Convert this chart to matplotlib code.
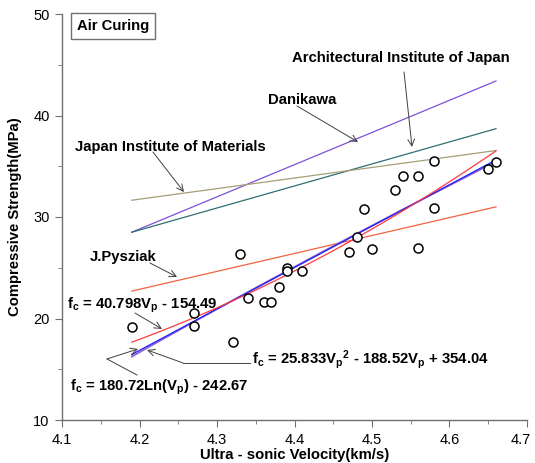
import numpy as np
import matplotlib
matplotlib.use("Agg")
import matplotlib.pyplot as plt
from matplotlib.ticker import MultipleLocator, FixedLocator
from matplotlib.transforms import ScaledTranslation

plt.rcParams['font.family'] = ['Liberation Sans', 'DejaVu Sans']
plt.rcParams['mathtext.fontset'] = 'custom'
plt.rcParams['mathtext.rm'] = 'Liberation Sans:bold'
plt.rcParams['mathtext.it'] = 'Liberation Sans:bold'
plt.rcParams['mathtext.bf'] = 'Liberation Sans:bold'

# measured data
vp = [4.19, 4.27, 4.27, 4.32, 4.33, 4.34, 4.36, 4.37, 4.38, 4.39, 4.39, 4.41,
      4.47, 4.48, 4.49, 4.50, 4.53, 4.54, 4.56, 4.56, 4.58, 4.58, 4.65, 4.66]
fc = [19.2, 20.5, 19.3, 17.7, 26.4, 22.0, 21.6, 21.6, 23.1, 25.0, 24.7, 24.7,
      26.6, 28.0, 30.8, 26.8, 32.7, 34.0, 34.0, 26.9, 35.5, 30.9, 34.7, 35.4]

# literature relations (end points)
lit_x = [4.19, 4.66]
danikawa_y = [28.5, 43.4]
aij_y = [28.5, 38.7]
jim_y = [31.65, 36.55]
pysz_y = [22.7, 31.0]

# fitted regressions (coefficients as printed)
lin_coef = [40.798, -154.49]
quad_coef = [25.833, -188.52, 354.04]
log_coef = [180.72, -242.67]
fit_range = [4.19, 4.66]

xticks = [4.1, 4.2, 4.3, 4.4, 4.5, 4.6, 4.7]
yticks = [10, 20, 30, 40, 50]

fig = plt.figure(figsize=(5.35, 4.63), dpi=100)
ax = fig.add_axes([62/535, 1-420/463, 465/535, 406/463])

xf = np.linspace(fit_range[0], fit_range[1], 100)
ax.plot(lit_x, danikawa_y, color='#7f50d8', lw=0.9)
ax.plot(lit_x, aij_y, color='#2f6f72', lw=0.9)
ax.plot(lit_x, jim_y, color='#a59f78', lw=0.9)
ax.plot(lit_x, pysz_y, color='#f0643f', lw=0.9)
ax.plot(xf, log_coef[0]*np.log(xf) + log_coef[1], color='#9060c8', lw=1.3)
ax.plot(xf, np.polyval(lin_coef, xf), color='#2020ff', lw=0.9)
ax.plot(xf, np.polyval(quad_coef, xf), color='#ff3a3a', lw=0.9)

ax.plot(vp, fc, 'o', mfc='white', mec='black', mew=1.1, ms=6.5, ls='none', zorder=5)

ax.set_xlim(4.1, 4.7)
ax.set_ylim(10, 50)
ax.xaxis.set_major_locator(FixedLocator(xticks))
ax.xaxis.set_minor_locator(MultipleLocator(0.05))
ax.yaxis.set_major_locator(FixedLocator(yticks))
ax.yaxis.set_minor_locator(MultipleLocator(5))
ax.set_xticklabels([f'{t:.1f}' for t in xticks])
ax.set_yticklabels([str(t) for t in yticks])
for s in ['top', 'right']:
    ax.spines[s].set_visible(False)
for s in ['left', 'bottom']:
    ax.spines[s].set_color('#707070')
    ax.spines[s].set_linewidth(1.0)
ax.tick_params(which='both', direction='out', color='#707070', labelsize=10.5, pad=4)
ax.tick_params(which='major', length=5)
ax.tick_params(which='minor', length=3)
ax.set_xlabel('Ultra - sonic Velocity(km/s)', fontsize=10.7, fontweight='bold', labelpad=1)
ax.set_ylabel('Compressive Strength(MPa)', fontsize=10.7, fontweight='bold', labelpad=8)

tkw = dict(fontsize=10.7, fontweight='bold', va='center', ha='left')
ax.text(4.1195, 48.85, 'Air Curing', bbox=dict(boxstyle='square,pad=0.4', fc='white', ec='#707070', lw=1), **tkw)
ax.text(4.3968, 45.67, 'Architectural Institute of Japan', **tkw)
ax.text(4.3658, 41.53, 'Danikawa', **tkw)
ax.text(4.1168, 36.9, 'Japan Institute of Materials', **tkw)
ax.text(4.1361, 26.06, 'J.Pysziak', **tkw)
ax.text(4.1065, 21.33, r'f$_c$ = 40.798V$_p$ - 154.49', **tkw)
ax.text(4.345, 15.91, r'f$_c$ = 25.833V$_p$$^2$ - 188.52V$_p$ + 354.04', **tkw)
ax.text(4.1103, 13.25, r'f$_c$ = 180.72Ln(V$_p$) - 242.67', **tkw)

akw = dict(arrowprops=dict(arrowstyle='->', color='#404040', lw=0.7, shrinkA=0, shrinkB=0,
                           mutation_scale=12))
ax.annotate('', xy=(4.5516, 36.90), xytext=(4.5413, 44.29), **akw)
ax.annotate('', xy=(4.4819, 37.39), xytext=(4.4032, 40.94), **akw)
ax.annotate('', xy=(4.2574, 32.46), xytext=(4.2174, 36.40), **akw)
ax.annotate('', xy=(4.2484, 24.09), xytext=(4.2135, 25.47), **akw)
ax.annotate('', xy=(4.2290, 18.97), xytext=(4.1942, 20.54), **akw)
# quadratic: elbow
ax.plot([4.3426, 4.2561], [15.62, 15.62], color='#404040', lw=0.7)
ax.annotate('', xy=(4.2097, 16.90), xytext=(4.2561, 15.62), **akw)
# log: two segments
ax.plot([4.1968, 4.1581], [14.43, 16.01], color='#404040', lw=0.7)
ax.annotate('', xy=(4.1981, 17.0), xytext=(4.1581, 16.01), **akw)

fig.canvas.draw()
last = ax.xaxis.get_major_ticks()[len(xticks) - 1].label1
last.set_transform(last.get_transform() + ScaledTranslation(-6/100, 0, fig.dpi_scale_trans))

fig.savefig('out.png', dpi=100)
